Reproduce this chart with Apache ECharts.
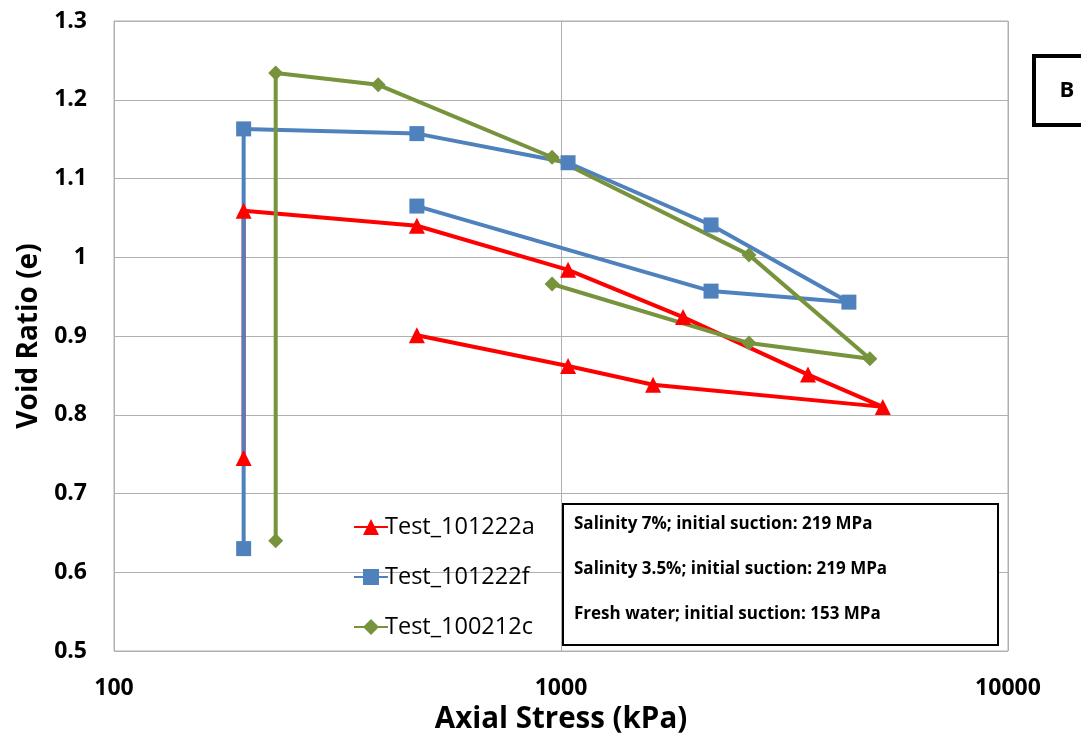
<!DOCTYPE html>
<html>
<head>
<meta charset="utf-8">
<script src="https://cdn.jsdelivr.net/npm/echarts@6/dist/echarts.min.js"></script>
<style>
  html, body { margin: 0; padding: 0; background: #fff; }
  #chart { width: 1081px; height: 734px; }
</style>
</head>
<body>
<div id="chart"></div>
<script>
// Oedometer loading/unloading paths: [axial stress kPa, void ratio]
const test101222a = [
  [195, 0.745], [195, 1.059], [476, 1.040], [1037, 0.984], [1875, 0.924],
  [3569, 0.851], [5248, 0.810], [1607, 0.838], [1037, 0.862], [476, 0.901]
];
const test101222f = [
  [195, 0.630], [195, 1.163], [476, 1.157], [1037, 1.120], [2166, 1.041],
  [4406, 0.943], [2166, 0.957], [476, 1.065]
];
const test100212c = [
  [230, 0.640], [230, 1.234], [390, 1.219], [955, 1.127], [2634, 1.003],
  [4909, 0.871], [2634, 0.891], [955, 0.966]
];
const seriesNames = ['Test_101222a', 'Test_101222f', 'Test_100212c'];
const noteLines = [
  'Salinity 7%; initial suction: 219 MPa',
  'Salinity 3.5%; initial suction: 219 MPa',
  'Fresh water; initial suction: 153 MPa'
];
const panelLabel = 'B';

const FONT = '"Open Sans", Lato, sans-serif';
const chart = echarts.init(document.getElementById('chart'));

function lineSeries(name, data, color, symbol, size) {
  return {
    name, type: 'line', data, symbol, symbolSize: size,
    lineStyle: { color, width: 4 },
    itemStyle: { color },
    animation: false
  };
}

chart.setOption({
  backgroundColor: '#ffffff',
  grid: {
    left: 114, top: 21, right: 73, bottom: 83,
    outerBoundsMode: 'none', containLabel: false,
    show: true, borderColor: '#b0b0b0', borderWidth: 1
  },
  xAxis: {
    type: 'log', logBase: 10, min: 100, max: 10000,
    name: 'Axial Stress (kPa)', nameLocation: 'middle', nameGap: 49,
    nameTextStyle: { fontFamily: FONT, fontWeight: 'bold', fontSize: 29.5, color: '#000' },
    axisLine: { show: false }, axisTick: { show: false },
    axisLabel: { fontFamily: FONT, fontWeight: 'bold', fontSize: 23, color: '#000', margin: 26,
      formatter: v => String(Math.round(v)) },
    splitLine: { show: true, lineStyle: { color: '#b0b0b0', width: 1 } },
    minorTick: { show: false }
  },
  yAxis: {
    type: 'value', min: 0.5, max: 1.3, interval: 0.1,
    name: 'Void Ratio (e)', nameLocation: 'middle', nameGap: 69,
    nameTextStyle: { fontFamily: FONT, fontWeight: 'bold', fontSize: 28, color: '#000' },
    axisLine: { show: false }, axisTick: { show: false },
    axisLabel: {
      fontFamily: FONT, fontWeight: 'bold', fontSize: 23, color: '#000', margin: 27,
      formatter: v => String(Math.round(v * 10) / 10)
    },
    splitLine: { show: true, lineStyle: { color: '#b0b0b0', width: 1 } }
  },
  legend: {
    orient: 'vertical', left: 348, top: 510, itemGap: 26, itemWidth: 34, itemHeight: 20,
    textStyle: { fontFamily: FONT, fontSize: 23.5, color: '#000', padding: [0, 0, 0, -8] },
    data: seriesNames
  },
  series: [
    lineSeries(seriesNames[0], test101222a, '#ff0000', 'triangle', 16),
    lineSeries(seriesNames[1], test101222f, '#4f81bd', 'rect', 15),
    lineSeries(seriesNames[2], test100212c, '#77933c', 'diamond', 15)
  ],
  graphic: [
    {
      type: 'group', left: 562, top: 503, z: 100,
      children: [
        { type: 'rect', z: 100, shape: { x: 0, y: 0, width: 435, height: 141 },
          style: { fill: '#fff', stroke: '#000', lineWidth: 2 } },
        ...noteLines.map((t, i) => ({
          type: 'text', z: 101, x: 11, y: 20 + i * 45,
          style: { text: t, fontFamily: FONT, fontWeight: 'bold', fontSize: 17, fill: '#000', verticalAlign: 'middle' }
        }))
      ]
    },
    {
      type: 'group', left: 1032, top: 54, z: 100,
      children: [
        { type: 'rect', z: 100, shape: { x: 0, y: 0, width: 60, height: 69 },
          style: { fill: '#fff', stroke: '#000', lineWidth: 4 } },
        { type: 'text', z: 101, x: 33, y: 35,
          style: { text: panelLabel, fontFamily: FONT, fontWeight: 'bold', fontSize: 22, fill: '#000', align: 'center', verticalAlign: 'middle' } }
      ]
    }
  ]
});
</script>
</body>
</html>
